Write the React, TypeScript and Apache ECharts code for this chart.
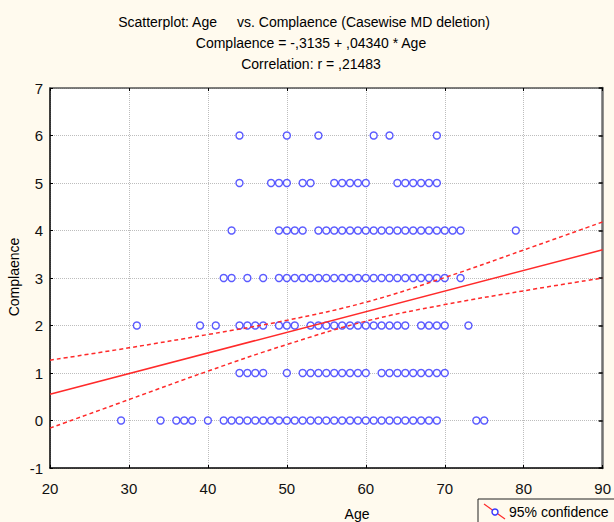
import React, { useEffect, useRef } from "react";
import * as echarts from "echarts";

const complaenceLevels = [0, 1, 2, 3, 4, 5, 6];
const agesAtLevel0 = [29, 34, 36, 37, 38, 40, 42, 43, 44, 45, 46, 47, 48, 49, 50, 51, 52, 53, 54, 55, 56, 57, 58, 59, 60, 61, 62, 63, 64, 65, 66, 67, 68, 69, 74, 75];
const agesAtLevel1 = [44, 45, 46, 47, 50, 52, 53, 54, 55, 56, 57, 58, 59, 60, 62, 63, 64, 65, 66, 67, 68, 69, 70];
const agesAtLevel2 = [31, 39, 41, 44, 45, 46, 47, 49, 50, 51, 53, 54, 55, 56, 57, 58, 59, 60, 61, 62, 63, 64, 65, 67, 68, 69, 70, 73];
const agesAtLevel3 = [42, 43, 45, 47, 49, 50, 51, 52, 53, 54, 55, 56, 57, 58, 59, 60, 61, 62, 63, 64, 65, 66, 67, 68, 69, 70, 72];
const agesAtLevel4 = [43, 49, 50, 51, 52, 54, 55, 56, 57, 58, 59, 60, 61, 62, 63, 64, 65, 66, 67, 68, 69, 70, 71, 72, 79];
const agesAtLevel5 = [44, 48, 49, 50, 52, 53, 56, 57, 58, 59, 60, 64, 65, 66, 67, 68, 69];
const agesAtLevel6 = [44, 50, 54, 61, 63, 69];
const agesByLevel = [agesAtLevel0, agesAtLevel1, agesAtLevel2, agesAtLevel3, agesAtLevel4, agesAtLevel5, agesAtLevel6];

// Regression line endpoints (Complaence = -,3135 + ,04340 * Age)
const fitAges = [20, 90];
const fitValues = [0.554, 3.593];

// 95% confidence band
const bandAges = [20, 30, 40, 50, 60, 70, 80, 90];
const bandUpper = [1.27, 1.53, 1.81, 2.11, 2.49, 3.01, 3.59, 4.18];
const bandLower = [-0.16, 0.44, 1.04, 1.6, 2.09, 2.44, 2.73, 3.0];

const titleLine1a = "Scatterplot: Age";
const titleLine1b = "vs. Complaence (Casewise MD deletion)";
const titleLine2 = "Complaence = -,3135 + ,04340 * Age";
const titleLine3 = "Correlation: r = ,21483";
const xName = "Age";
const yName = "Complaence";
const legendLabel = "95% confidence";

const FONT = "'Liberation Sans', Arial, sans-serif";

export default function App() {
  const ref = useRef<HTMLDivElement>(null);
  useEffect(() => {
    document.body.style.margin = "0";
    if (!ref.current) return;
    const chart = echarts.init(ref.current, null, { renderer: "svg" });

    const points: number[][] = [];
    complaenceLevels.forEach((lvl, i) => {
      agesByLevel[i].forEach((a) => points.push([a, lvl]));
    });

    const red = "#ff2a2a";
    const option: any = {
      animation: false,
      backgroundColor: "#fffaee",
      grid: {
        left: 50,
        top: 88,
        right: 7,
        bottom: 54,
        show: true,
        backgroundColor: "#ffffff",
        borderWidth: 0,
      },
      xAxis: [
        {
          type: "value",
          min: 20,
          max: 90,
          interval: 10,
          axisLine: { show: true, onZero: false, lineStyle: { color: "#000", width: 1.5 } },
          axisTick: { show: true, inside: true, length: 3, lineStyle: { color: "#000" } },
          axisLabel: { color: "#111", fontSize: 15, fontFamily: FONT, margin: 13 },
          splitLine: { show: true, lineStyle: { color: "#bdbdbd", type: "dotted", width: 1 } },
        },
        {
          type: "value",
          position: "top",
          min: 20,
          max: 90,
          interval: 10,
          axisLine: { show: true, onZero: false, lineStyle: { color: "#555", width: 1.5 } },
          axisTick: { show: true, inside: true, length: 3, lineStyle: { color: "#000" } },
          axisLabel: { show: false },
          splitLine: { show: false },
        },
      ],
      yAxis: [
        {
          type: "value",
          min: -1,
          max: 7,
          interval: 1,
          axisLine: { show: true, onZero: false, lineStyle: { color: "#000", width: 1.5 } },
          axisTick: { show: true, inside: true, length: 3, lineStyle: { color: "#000" } },
          axisLabel: { color: "#111", fontSize: 15, fontFamily: FONT, margin: 7 },
          splitLine: { show: true, lineStyle: { color: "#bdbdbd", type: "dotted", width: 1 } },
        },
        {
          type: "value",
          position: "right",
          min: -1,
          max: 7,
          interval: 1,
          axisLine: { show: true, onZero: false, lineStyle: { color: "#707070", width: 2.5 } },
          axisTick: { show: true, inside: true, length: 4, lineStyle: { color: "#000", width: 1.5 } },
          axisLabel: { show: false },
          splitLine: { show: false },
        },
      ],
      series: [
        {
          type: "scatter",
          name: "Complaence",
          data: points,
          symbol: "circle",
          symbolSize: 7,
          itemStyle: { color: "#ffffff", borderColor: "#3232ff", borderWidth: 1.4 },
          z: 2,
        },
        {
          type: "line",
          name: "fit",
          data: fitAges.map((a, i) => [a, fitValues[i]]),
          showSymbol: false,
          symbol: "none",
          lineStyle: { color: red, width: 1.5 },
          z: 3,
        },
        {
          type: "line",
          name: "upper",
          data: bandAges.map((a, i) => [a, bandUpper[i]]),
          smooth: 0.4,
          symbol: "none",
          lineStyle: { color: red, width: 1.5, type: [4, 3] },
          z: 3,
        },
        {
          type: "line",
          name: "lower",
          data: bandAges.map((a, i) => [a, bandLower[i]]),
          smooth: 0.4,
          symbol: "none",
          lineStyle: { color: red, width: 1.5, type: [4, 3] },
          z: 3,
        },
      ],
      graphic: [
        { type: "text", x: 217, y: 22, style: { text: titleLine1a, font: `14px ${FONT}`, fill: "#000", textAlign: "right", textVerticalAlign: "middle" } },
        { type: "text", x: 237, y: 22, style: { text: titleLine1b, font: `14px ${FONT}`, fill: "#000", textAlign: "left", textVerticalAlign: "middle" } },
        { type: "text", x: 311, y: 43, style: { text: titleLine2, font: `14px ${FONT}`, fill: "#000", textAlign: "center", textVerticalAlign: "middle" } },
        { type: "text", x: 311, y: 64, style: { text: titleLine3, font: `14px ${FONT}`, fill: "#000", textAlign: "center", textVerticalAlign: "middle" } },
        { type: "text", x: 357, y: 514, style: { text: xName, font: `14px ${FONT}`, fill: "#000", textAlign: "center", textVerticalAlign: "middle" } },
        { type: "text", x: 14, y: 277, rotation: Math.PI / 2, style: { text: yName, font: `14px ${FONT}`, fill: "#000", textAlign: "center", textVerticalAlign: "middle" } },
        { type: "rect", shape: { x: 478, y: 499, width: 200, height: 40 }, style: { fill: "#fffaee", stroke: "#222", lineWidth: 1 } },
        { type: "line", shape: { x1: 484, y1: 504, x2: 505, y2: 519 }, style: { stroke: red, lineWidth: 1.2 } },
        { type: "circle", shape: { cx: 495, cy: 512, r: 3 }, style: { fill: "#ffffff", stroke: "#3232ff", lineWidth: 1.4 } },
        { type: "text", x: 509, y: 512, style: { text: legendLabel, font: `14px ${FONT}`, fill: "#000", textAlign: "left", textVerticalAlign: "middle" } },
      ],
    };
    chart.setOption(option);
    return () => chart.dispose();
  }, []);
  return <div ref={ref} style={{ width: 614, height: 522 }} />;
}
